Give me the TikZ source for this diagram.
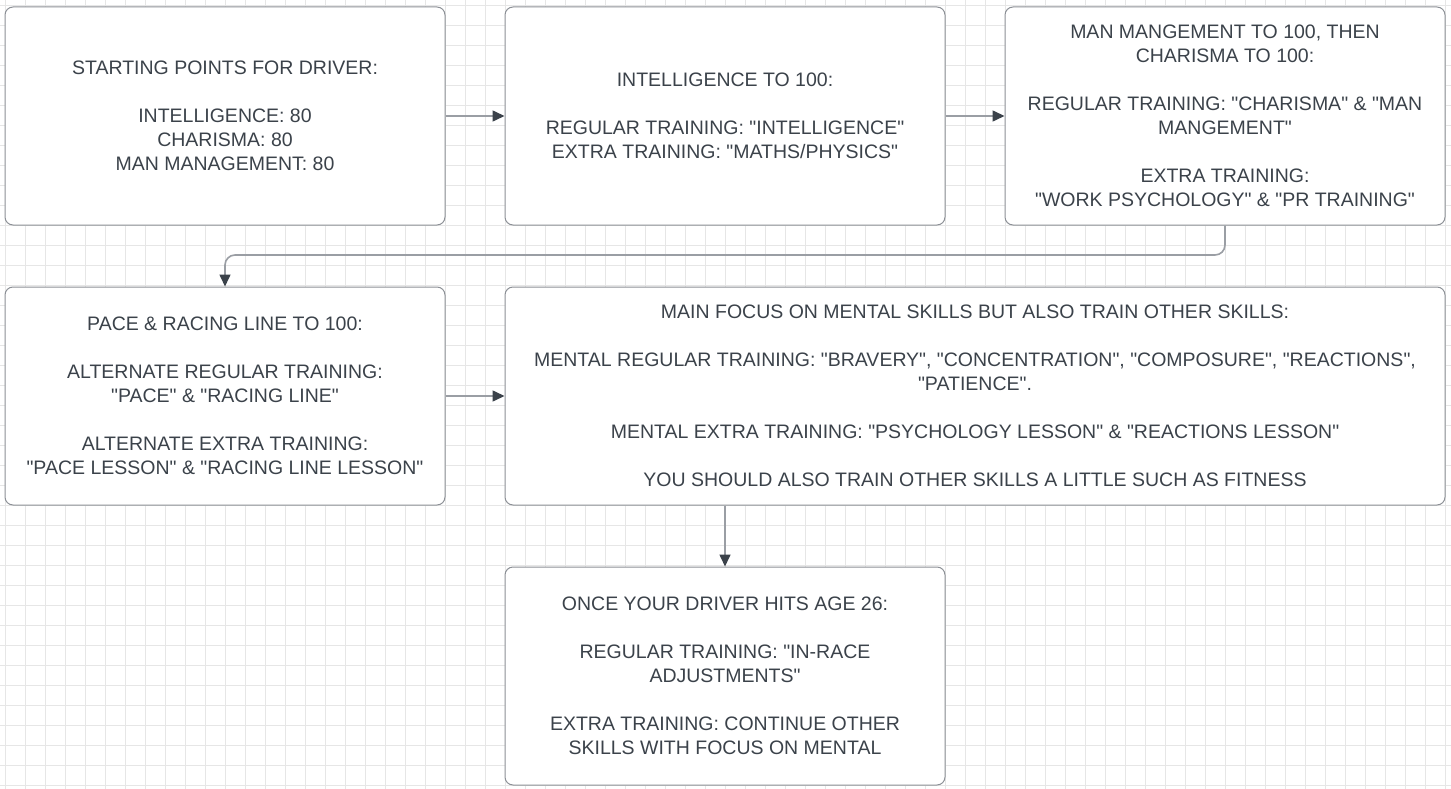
\documentclass[tikz,border=0pt]{standalone}
\usepackage{fontspec}
\setmainfont{Liberation Sans}[Ligatures=TeXOff]
\usetikzlibrary{arrows.meta}
\definecolor{txt}{HTML}{3B424A}
\definecolor{boxline}{HTML}{8C9096}
\definecolor{conn}{HTML}{9A9EA4}
\definecolor{gridc}{HTML}{E6E6E6}
\tikzset{
  card/.style={draw=boxline, line width=1pt, fill=white, rounded corners=8pt,
    inner sep=0pt, align=center, text=txt,
    font=\fontsize{19.5}{24}\selectfont},
  conline/.style={draw=conn, line width=1.6pt,
    -{Triangle[length=12pt,width=11pt,color=txt]}}
}
\begin{document}
\begin{tikzpicture}[x=1pt,y=-1pt]
\useasboundingbox (0,0) rectangle (1451,789);
\fill[white] (0,0) rectangle (1451,789);
\foreach \x in {5,25,...,1445} \draw[gridc, line width=0.8pt] (\x,0) -- (\x,789);
\foreach \y in {5,25,...,785} \draw[gridc, line width=0.8pt] (0,\y) -- (1451,\y);

\node[card, minimum width=440pt, minimum height=218pt] (b1) at (225,116)
 {STARTING POINTS FOR DRIVER:\\[24pt]INTELLIGENCE: 80\\CHARISMA: 80\\MAN MANAGEMENT: 80};
\node[card, minimum width=440pt, minimum height=218pt] (b2) at (725,116)
 {INTELLIGENCE TO 100:\\[24pt]REGULAR TRAINING: "INTELLIGENCE"\\EXTRA TRAINING: "MATHS/PHYSICS"};
\node[card, minimum width=440pt, minimum height=218pt] (b3) at (1225,116)
 {MAN MANGEMENT TO 100, THEN\\CHARISMA TO 100:\\[24pt]REGULAR TRAINING: "CHARISMA" \& "MAN\\MANGEMENT"\\[24pt]EXTRA TRAINING:\\"WORK PSYCHOLOGY" \& "PR TRAINING"};
\node[card, minimum width=440pt, minimum height=218pt] (b4) at (225,396)
 {PACE \& RACING LINE TO 100:\\[24pt]ALTERNATE REGULAR TRAINING:\\"PACE" \& "RACING LINE"\\[24pt]ALTERNATE EXTRA TRAINING:\\"PACE LESSON" \& "RACING LINE LESSON"};
\node[card, minimum width=940pt, minimum height=218pt] (b5) at (975,396)
 {MAIN FOCUS ON MENTAL SKILLS BUT ALSO TRAIN OTHER SKILLS:\\[24pt]MENTAL REGULAR TRAINING: "BRAVERY", "CONCENTRATION", "COMPOSURE", "REACTIONS",\\"PATIENCE".\\[24pt]MENTAL EXTRA TRAINING: "PSYCHOLOGY LESSON" \& "REACTIONS LESSON"\\[24pt]YOU SHOULD ALSO TRAIN OTHER SKILLS A LITTLE SUCH AS FITNESS};
\node[card, minimum width=440pt, minimum height=218pt] (b6) at (725,676)
 {ONCE YOUR DRIVER HITS AGE 26:\\[24pt]REGULAR TRAINING: "IN-RACE\\ADJUSTMENTS"\\[24pt]EXTRA TRAINING: CONTINUE OTHER\\SKILLS WITH FOCUS ON MENTAL};

\coordinate (c1) at (1225,255);
\coordinate (c2) at (225,255);
\draw[conline] (b1.east) -- (b2.west);
\draw[conline] (b2.east) -- (b3.west);
\draw[conline, rounded corners=10pt] (b3.south) -- (c1) -- (c2) -- (b4.north);
\draw[conline] (b4.east) -- (b4.east -| b5.west);
\draw[conline] (b5.south -| b6.north) -- (b6.north);
\end{tikzpicture}
\end{document}
